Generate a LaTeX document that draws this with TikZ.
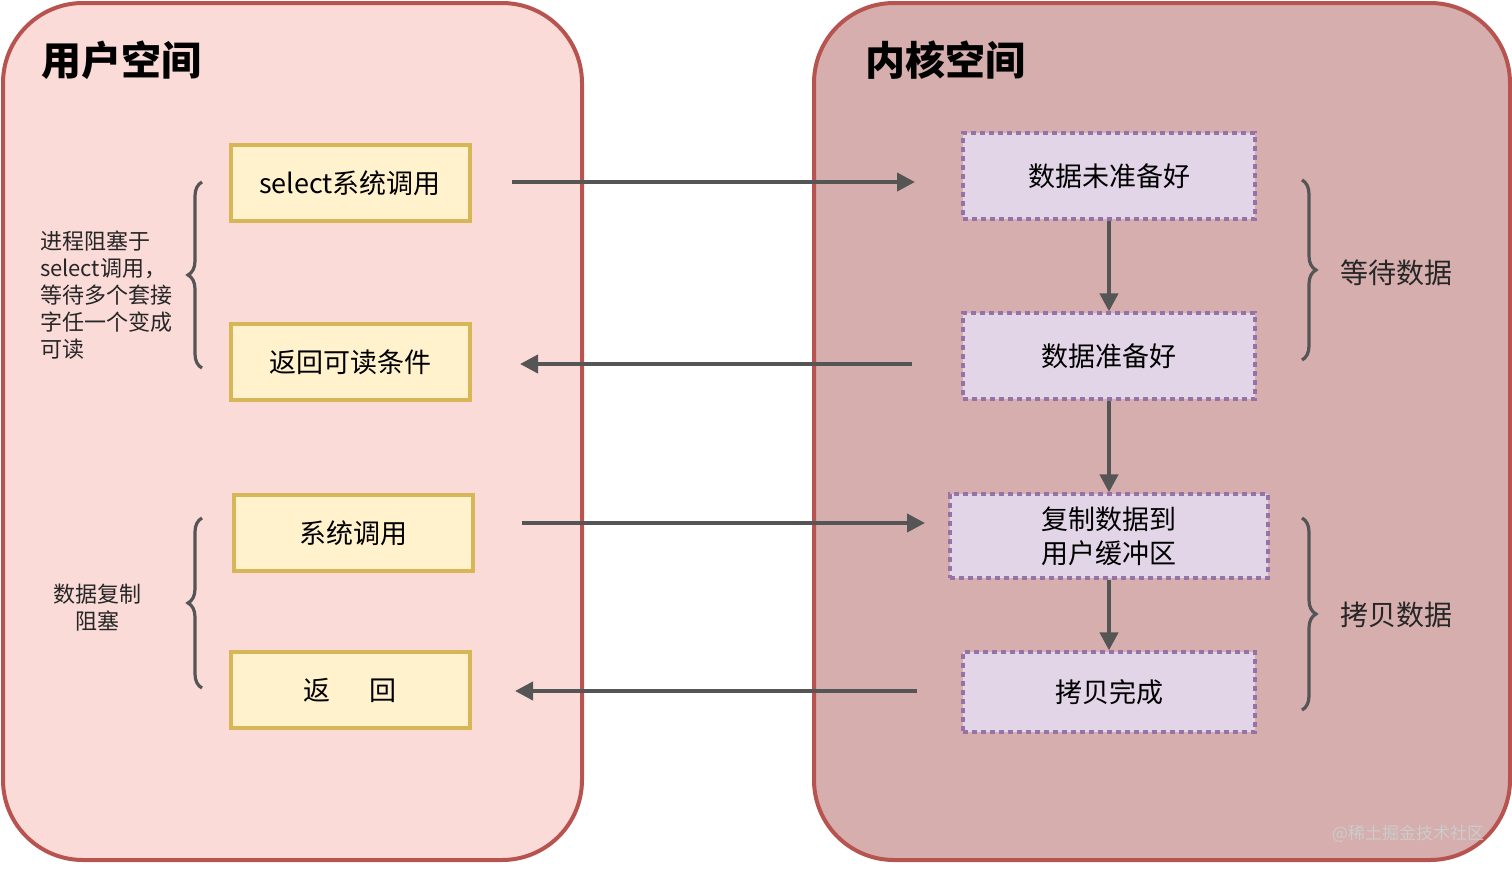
\documentclass[tikz,border=0pt]{standalone}
\usepackage{fontspec}
\setmainfont{Noto Sans CJK SC}
\usetikzlibrary{arrows.meta,decorations.pathreplacing}
\definecolor{ufill}{HTML}{FADBD8}
\definecolor{kfill}{HTML}{D5AEAD}
\definecolor{pborder}{HTML}{B85450}
\definecolor{yfill}{HTML}{FFF2CC}
\definecolor{yborder}{HTML}{D6B656}
\definecolor{vfill}{HTML}{E1D5E7}
\definecolor{vborder}{HTML}{9673A6}
\definecolor{arr}{HTML}{555555}
\begin{document}
\begin{tikzpicture}[x=0.5pt,y=-0.5pt,
  panel/.style={draw=pborder,line width=2pt,rounded corners=40pt},
  ybox/.style={draw=yborder,fill=yfill,line width=2pt,minimum width=119.5pt,minimum height=38pt,font=\fontsize{13.5}{16}\selectfont},
  vbox/.style={draw=vborder,fill=vfill,line width=1.6pt,dash pattern=on 2.5pt off 2pt,minimum width=146pt,minimum height=43pt,font=\fontsize{13.5}{16}\selectfont,align=center},
  conn/.style={draw=arr,line width=2pt,-{Triangle[length=9pt,width=9pt]}},
  brace/.style={draw=arr,line width=1.6pt,decorate,decoration={brace,amplitude=7pt}},
  side/.style={font=\fontsize{11}{13.5}\selectfont,align=left,text=black!85},
  rside/.style={font=\fontsize{14}{16}\selectfont,text=black!85}]
\useasboundingbox (0,0) rectangle (1512,869);
\path[panel,fill=ufill] (3,3) rectangle (582,860);
\path[panel,fill=kfill] (814,3) rectangle (1510,860);
\node[font=\bfseries\fontsize{20}{24}\selectfont] (ut) at (121,60) {用户空间};
\node[font=\bfseries\fontsize{20}{24}\selectfont] (kt) at (945,60) {内核空间};

\node[ybox] (sel) at (350,183) {select系统调用};
\node[ybox] (ret1) at (350,362) {返回可读条件};
\node[ybox] (sys) at (353,533) {系统调用};
\node[ybox] (ret2) at (350,690) {返\quad\ \ 回};

\node[vbox] (k1) at (1109,176) {数据未准备好};
\node[vbox] (k2) at (1109,356) {数据准备好};
\node[vbox,minimum width=159pt,minimum height=42pt,font=\fontsize{13.5}{17}\selectfont] (k3) at (1109,536) {复制数据到\\用户缓冲区};
\node[vbox,minimum height=40pt] (k4) at (1109,692) {拷贝完成};

\coordinate (a1s) at (512,182); \coordinate (a1e) at (915,182);
\coordinate (a2s) at (912,364); \coordinate (a2e) at (520,364);
\coordinate (a3s) at (522,523); \coordinate (a3e) at (925,523);
\coordinate (a4s) at (917,691); \coordinate (a4e) at (515,691);
\draw[conn] (a1s) -- (a1e);
\draw[conn] (a2s) -- (a2e);
\draw[conn] (a3s) -- (a3e);
\draw[conn] (a4s) -- (a4e);
\draw[conn] (k1) -- (k2);
\draw[conn] (k2) -- (k3);
\draw[conn] (k3) -- (k4);

\coordinate (b1t) at (202,182); \coordinate (b1b) at (202,368);
\coordinate (b2t) at (202,518); \coordinate (b2b) at (202,688);
\draw[brace] (b1b) -- (b1t);
\draw[brace] (b2b) -- (b2t);
\coordinate (b3t) at (1302,180); \coordinate (b3b) at (1302,360);
\coordinate (b4t) at (1302,518); \coordinate (b4b) at (1302,710);
\draw[brace] (b3t) -- (b3b);
\draw[brace] (b4t) -- (b4b);

\node[side,anchor=west] (l1) at (33,295) {进程阻塞于\\select调用，\\等待多个套接\\字任一个变成\\可读};
\node[side,align=center] (l2) at (98,608) {数据复制\\阻塞};
\node[rside] (r1) at (1396,273) {等待数据};
\node[rside] (r2) at (1396,615) {拷贝数据};
\node[font=\fontsize{8.5}{10}\selectfont,text=white!60!gray] (wm) at (1408,834) {@稀土掘金技术社区};
\end{tikzpicture}
\end{document}
